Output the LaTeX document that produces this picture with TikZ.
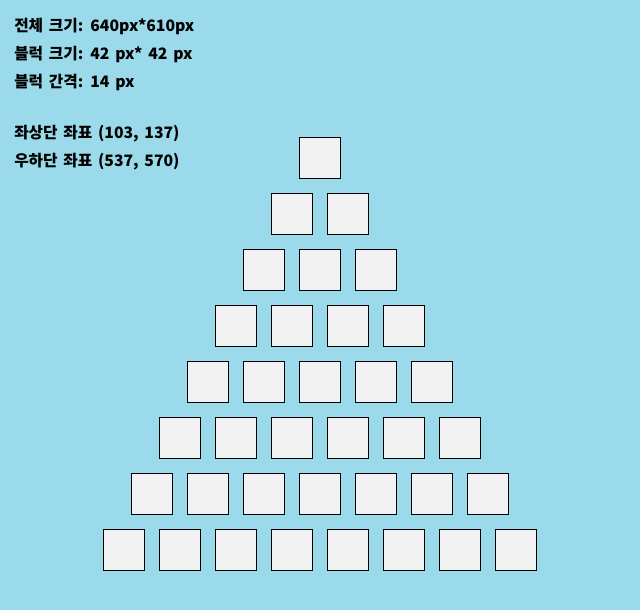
\documentclass[tikz,border=0pt]{standalone}
\usepackage{fontspec}
\newfontfamily\kr{Noto Sans CJK KR}[WordSpace=1.6]
\usepackage{tikz}
\usetikzlibrary{positioning}
\definecolor{bgblue}{RGB}{154,218,234}
\definecolor{blockgray}{RGB}{242,242,242}

\begin{document}
\begin{tikzpicture}[
  x=0.75pt,y=-0.75pt,
  box/.style={draw,line width=0.75pt,fill=blockgray,minimum size=30.9pt,inner sep=0pt},
  info/.style={anchor=west,inner sep=0pt,font=\kr\bfseries\fontsize{11.8}{13}\selectfont}
]
\fill[bgblue] (0,0) rectangle (640,610);
\node[info] (t1) at (14,26) {전체 크기: 640px*610px};
\node[info] (t2) at (14,54) {블럭 크기: 42 px* 42 px};
\node[info] (t3) at (14,82) {블럭 간격: 14 px};
\node[info] (t4) at (14,134) {좌상단 좌표 (103, 137)};
\node[info] (t5) at (14,162) {우하단 좌표 (537, 570)};
\foreach \r in {1,...,8}{
  \foreach \c in {1,...,\r}{
    \node[box] (b\r-\c) at ({292-28*\r+56*\c},{102+56*\r}) {};
  }
}
\end{tikzpicture}
\end{document}
